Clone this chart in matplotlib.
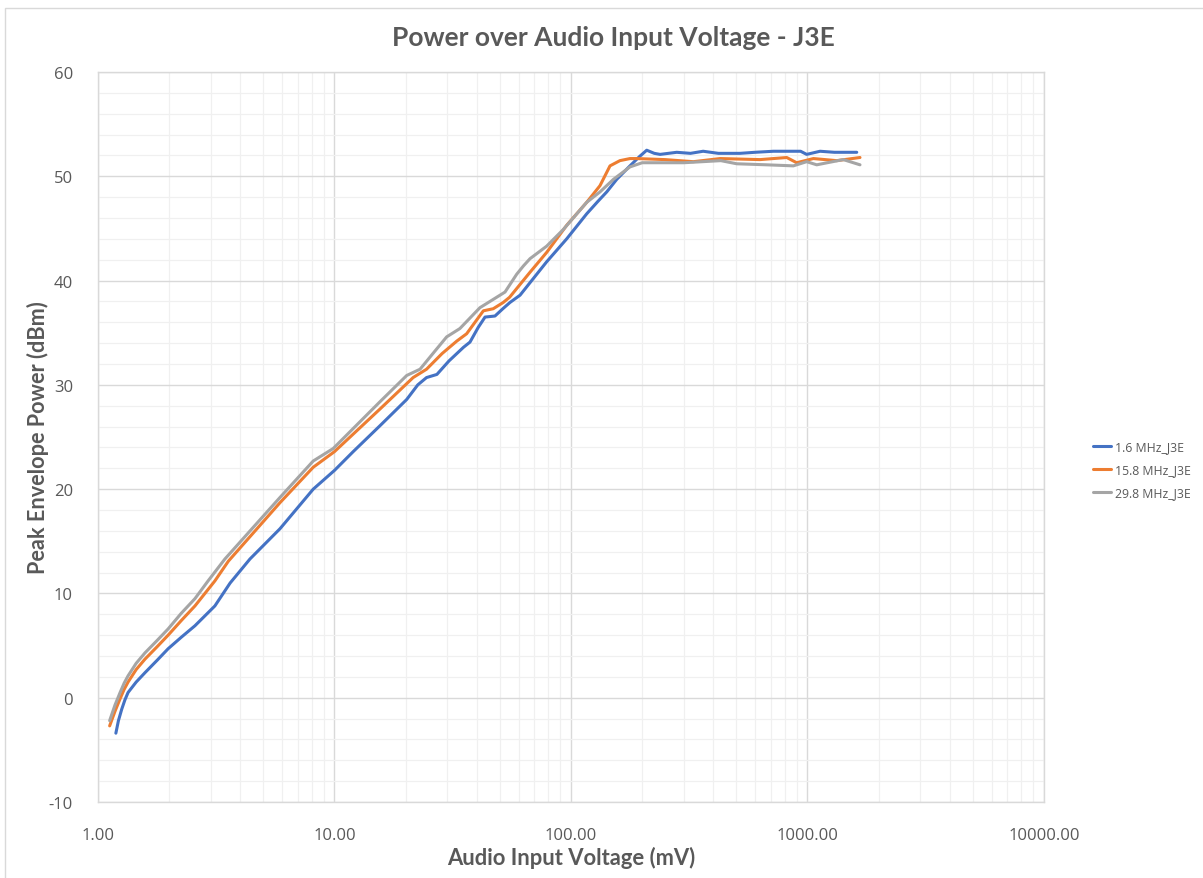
import numpy as np
import matplotlib
matplotlib.use("Agg")
import matplotlib.pyplot as plt
import matplotlib.patches as mpatches
from matplotlib.ticker import FixedLocator, LogLocator, NullFormatter, FuncFormatter

plt.rcParams["axes.unicode_minus"] = False

# measured sweeps: audio input voltage (mV) vs peak envelope power (dBm)
mv_1m6 = [1.19, 1.22, 1.26, 1.30, 1.34, 1.45, 1.58, 1.78, 1.98, 2.25, 2.57,
          3.12, 3.62, 4.39, 5.88, 8.13, 10.0, 12.0, 15.6, 20.2, 22.5, 24.5,
          27.1, 30.5, 35.1, 37.4, 40.5, 43.3, 47.7, 51.5, 55.2, 60.9, 67.1,
          78.9, 95.9, 116.5, 130, 141.6, 156, 177.6, 195, 209, 225, 238, 280,
          320, 362, 420, 518, 600, 717, 935, 992, 1130, 1300, 1615]
pep_1m6 = [-3.4, -2.2, -1.1, -0.2, 0.5, 1.5, 2.4, 3.6, 4.7, 5.8, 6.9,
           8.8, 11.0, 13.3, 16.2, 20.0, 21.8, 23.6, 26.1, 28.6, 30.0, 30.7,
           31.0, 32.3, 33.6, 34.1, 35.5, 36.5, 36.6, 37.3, 37.9, 38.6, 39.8,
           41.8, 44.0, 46.4, 47.6, 48.5, 49.7, 51.0, 51.9, 52.5, 52.2, 52.1,
           52.3, 52.2, 52.4, 52.2, 52.2, 52.3, 52.4, 52.4, 52.1, 52.4, 52.3,
           52.3]

mv_15m8 = [1.12, 1.18, 1.24, 1.29, 1.34, 1.45, 1.58, 1.78, 1.98, 2.25, 2.57,
           3.12, 3.56, 5.88, 8.13, 10.0, 15.6, 21.5, 24.5, 28.5, 32.9, 36.2,
           42.6, 46.9, 51.7, 55.0, 67.1, 78.9, 95.9, 116.5, 132.6, 146.2, 161,
           177.6, 189.6, 250, 329, 427, 630, 817, 900, 1059, 1328, 1667]
pep_15m8 = [-2.7, -1.3, -0.1, 0.8, 1.5, 2.7, 3.7, 4.9, 6.0, 7.4, 8.8,
            11.2, 13.1, 18.7, 22.1, 23.6, 27.7, 30.7, 31.5, 33.0, 34.2, 34.9,
            37.1, 37.3, 37.9, 38.4, 40.8, 42.7, 45.3, 47.5, 49.1, 51.0, 51.5,
            51.7, 51.7, 51.6, 51.4, 51.7, 51.6, 51.8, 51.3, 51.7, 51.5, 51.8]

mv_29m8 = [1.12, 1.18, 1.24, 1.29, 1.34, 1.45, 1.58, 1.78, 1.98, 2.25, 2.57,
           2.92, 3.44, 5.88, 8.13, 9.88, 15.6, 20.2, 23.0, 26.5, 29.8, 33.9,
           41.2, 50.1, 52.6, 58.9, 62.9, 67.1, 78.9, 92.8, 116.5, 132.6, 151,
           177.6, 200, 300, 430, 502, 672, 871, 992, 1094, 1417, 1667]
pep_29m8 = [-2.2, -0.7, 0.5, 1.4, 2.1, 3.3, 4.3, 5.5, 6.6, 8.1, 9.5,
            11.2, 13.3, 19.2, 22.7, 23.9, 28.4, 30.9, 31.5, 33.2, 34.6, 35.4,
            37.4, 38.6, 38.9, 40.6, 41.4, 42.1, 43.3, 44.9, 47.5, 48.5, 49.7,
            50.9, 51.3, 51.3, 51.5, 51.2, 51.1, 51.0, 51.4, 51.1, 51.6, 51.1]

series_names = ["1.6 MHz_J3E", "15.8 MHz_J3E", "29.8 MHz_J3E"]
series_colors = ["#4472C4", "#ED7D31", "#A5A5A5"]

text_grey = "#595959"

fig = plt.figure(figsize=(12.03, 8.79), dpi=100)
ax = fig.add_axes([98 / 1203, 1 - 803 / 879, (1044 - 98) / 1203, (803 - 73) / 879])

# chart frame (only top/left edges fall inside the canvas)
frame = mpatches.Rectangle((5 / 1203, -0.05), 1.2, 1 - 9 / 879 + 0.05,
                           transform=fig.transFigure, fill=False,
                           edgecolor="#d9d9d9", lw=1.0, zorder=0)
fig.patches.append(frame)

for xs, ys, name, col in zip([mv_1m6, mv_15m8, mv_29m8],
                             [pep_1m6, pep_15m8, pep_29m8],
                             series_names, series_colors):
    ax.plot(xs, ys, color=col, lw=2.2, label=name,
            solid_joinstyle="round", solid_capstyle="round", zorder=3)

ax.set_xscale("log")
ax.set_xlim(1, 10000)
ax.set_ylim(-10, 60)

ax.xaxis.set_major_locator(FixedLocator([1, 10, 100, 1000, 10000]))
ax.xaxis.set_major_formatter(FuncFormatter(lambda v, p: "%.2f" % v))
ax.xaxis.set_minor_locator(LogLocator(base=10, subs=np.arange(2, 10)))
ax.xaxis.set_minor_formatter(NullFormatter())
ax.yaxis.set_major_locator(FixedLocator(np.arange(-10, 61, 10)))
ax.yaxis.set_minor_locator(FixedLocator(np.arange(-10, 61, 2)))

ax.grid(which="major", color="#d9d9d9", lw=1.0)
ax.grid(which="minor", color="#f0f0f0", lw=0.9)
ax.set_axisbelow(True)

for s in ax.spines.values():
    s.set_color("#d9d9d9")
    s.set_linewidth(1.0)

ax.tick_params(which="both", length=0)
ax.tick_params(axis="x", pad=18, labelsize=12, labelcolor=text_grey)
ax.tick_params(axis="y", pad=18, labelsize=12, labelcolor=text_grey)
for lab in ax.get_xticklabels() + ax.get_yticklabels():
    lab.set_family("Open Sans")

fig.text(613 / 1203, 1 - 38 / 879, "Power over Audio Input Voltage - J3E",
         ha="center", va="center", fontsize=19, fontweight="bold",
         family="Lato", color=text_grey)
fig.text(571 / 1203, 1 - 858 / 879, "Audio Input Voltage (mV)",
         ha="center", va="center", fontsize=15.8, fontweight="bold",
         family="Lato", color=text_grey)
fig.text(38 / 1203, 1 - 438 / 879, "Peak Envelope Power (dBm)",
         ha="center", va="center", fontsize=15.6, fontweight="bold",
         family="Lato", color=text_grey, rotation=90)

# legend sits in the right margin; kept narrow enough to fit the canvas
leg = fig.legend(loc="upper left", bbox_to_anchor=(1084 / 1203, 1 - 433 / 879),
                 frameon=False, handlelength=1.5, borderpad=0.2,
                 handletextpad=0.3, labelspacing=0.8,
                 prop={"family": "Open Sans", "size": 8.8})
for t in leg.get_texts():
    t.set_color(text_grey)

fig.savefig("out.png", dpi=100, facecolor="white")
